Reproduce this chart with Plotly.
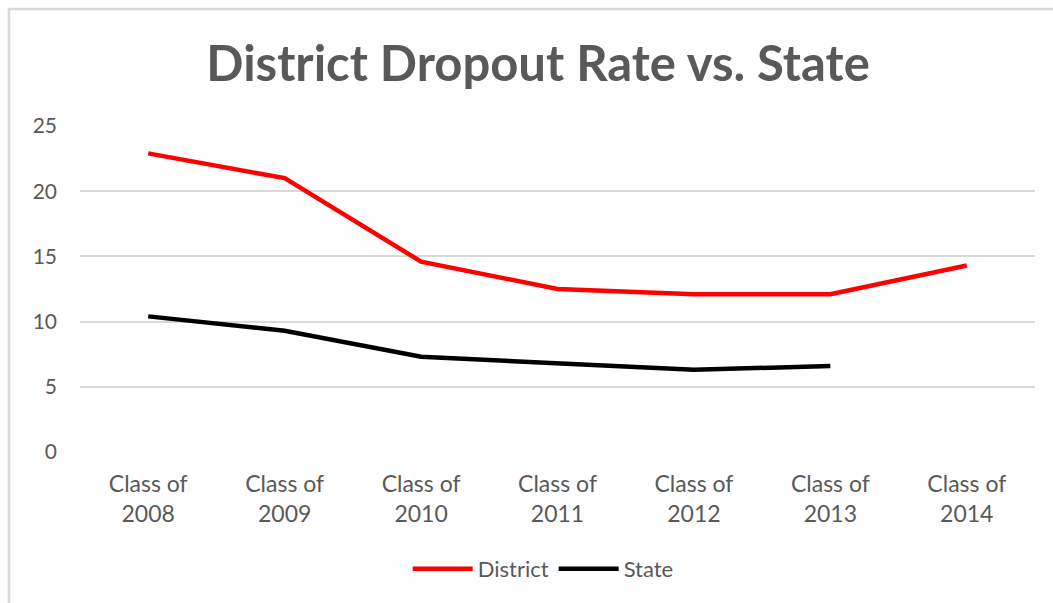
import plotly.graph_objects as go

# Graduating classes on the category axis
classes = ["Class of 2008", "Class of 2009", "Class of 2010", "Class of 2011",
           "Class of 2012", "Class of 2013", "Class of 2014"]
tick_text = ["Class of<br>2008", "Class of<br>2009", "Class of<br>2010", "Class of<br>2011",
             "Class of<br>2012", "Class of<br>2013", "Class of<br>2014"]

# Dropout rates (%)
district = [22.9, 21.0, 14.6, 12.5, 12.1, 12.1, 14.3]
state = [10.4, 9.3, 7.3, 6.8, 6.3, 6.6, None]

W, H = 1053, 603
ML, MR, MT, MB = 80, 18, 126, 151
FONT = "Lato, 'Open Sans', sans-serif"
GRAY = "#595959"

fig = go.Figure()
fig.add_trace(go.Scatter(x=classes, y=district, name="District", mode="lines",
                         line=dict(color="#FF0000", width=4.5)))
fig.add_trace(go.Scatter(x=classes, y=state, name="State", mode="lines",
                         line=dict(color="#000000", width=4.5)))

# Outer chart border (left and top edges visible, continuing past the frame)
pw, ph = W - ML - MR, H - MT - MB
x0 = (9 - ML) / pw
y1 = (H - 9 - MB) / ph
fig.add_shape(type="rect", xref="paper", yref="paper",
              x0=x0, x1=(W + 20 - ML) / pw, y0=(-20 - MB) / ph, y1=y1,
              line=dict(color="#D9D9D9", width=2.5), layer="below")

fig.update_layout(
    width=W, height=H,
    margin=dict(l=ML, r=MR, t=MT, b=MB),
    paper_bgcolor="white", plot_bgcolor="white",
    title=dict(text="<b>District Dropout Rate vs. State</b>", x=0.511, xanchor="center",
               y=1 - 64 / H, yanchor="middle",
               font=dict(family=FONT, size=49, color=GRAY)),
    font=dict(family=FONT, color=GRAY),
    showlegend=True,
    legend=dict(orientation="h", x=0.485, xanchor="center", y=-(569 - 452) / ph,
                yanchor="middle", font=dict(size=22, color=GRAY),
                itemwidth=60, traceorder="normal"),
    xaxis=dict(type="category", tickmode="array", tickvals=classes, ticktext=tick_text,
               range=[-0.5, 6.5],
               showgrid=False, showline=False, zeroline=False,
               tickfont=dict(size=23, color=GRAY), ticks="", ticklabelstandoff=16),
    yaxis=dict(range=[0, 25], dtick=5, showgrid=True, gridcolor="#D9D9D9", gridwidth=1.5,
               zeroline=False, showline=False, ticks="",
               tickfont=dict(size=21, color=GRAY), ticklabelstandoff=22),
)

fig.write_html("out.html")
